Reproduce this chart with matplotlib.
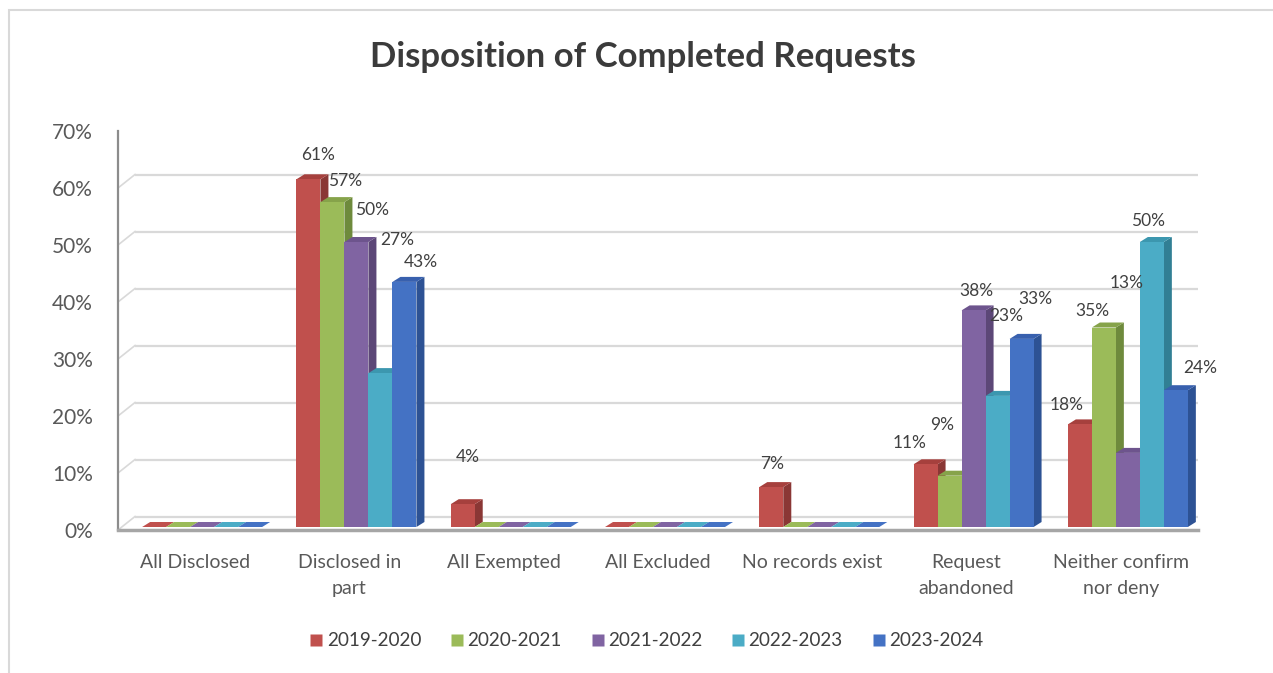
import numpy as np
import matplotlib.pyplot as plt
from matplotlib.patches import Polygon, Rectangle
from matplotlib.lines import Line2D

plt.rcParams['font.family'] = ['Lato', 'DejaVu Sans']

categories = ['All Disclosed', 'Disclosed in\npart', 'All Exempted', 'All Excluded',
              'No records exist', 'Request\nabandoned', 'Neither confirm\nnor deny']
years = ['2019-2020', '2020-2021', '2021-2022', '2022-2023', '2023-2024']

# percent per category, one list per year
v_2019 = [0, 61, 4, 0, 7, 11, 18]
v_2020 = [0, 57, 0, 0, 0, 9, 35]
v_2021 = [0, 50, 0, 0, 0, 38, 13]
v_2022 = [0, 27, 0, 0, 0, 23, 50]
v_2023 = [0, 43, 0, 0, 0, 33, 24]
series = [v_2019, v_2020, v_2021, v_2022, v_2023]

yticks = [0, 10, 20, 30, 40, 50, 60, 70]

# where excel put the data labels (height in %, sideways nudge in px)
label_y = [
    [0, 0, 0, 0, 0],
    [65.8, 61.2, 56.1, 50.9, 47.0],
    [12.8, 0, 0, 0, 0],
    [0, 0, 0, 0, 0],
    [11.6, 0, 0, 0, 0],
    [15.3, 18.4, 41.9, 37.5, 40.5],
    [21.9, 38.4, 43.3, 54.2, 28.4],
]
label_dx = [
    [0, 0, 0, 0, 0],
    [10, 13, 16, 17, 16],
    [5, 0, 0, 0, 0],
    [0, 0, 0, 0, 0],
    [1, 0, 0, 0, 0],
    [-16, -7, 3, 9, 14],
    [-13, -11, -1, -4, 24],
]

front = ['#C0504D', '#9BBB59', '#8064A2', '#4BACC6', '#4472C4']
side = ['#8A3735', '#6E8A3C', '#5C4777', '#317F94', '#2D5294']
top = ['#A6403D', '#86A34A', '#6D548D', '#3C97AF', '#3860AE']

W, H = 1273, 673
fig = plt.figure(figsize=(W / 100, H / 100), dpi=100)
# chart border, only top and left edges fall inside the picture
fig.patches.append(Rectangle((9 / W, -20 / H), 1300 / W, 683 / H, transform=fig.transFigure,
                             fill=False, edgecolor='#D9D9D9', linewidth=1.5))

# front plane of the 3d box: x 118..1198 px, y 530..131 px
ax = fig.add_axes([118 / W, (H - 530) / H, 1080 / W, 399 / H])
ax.set_xlim(-0.5, 6.5)
ax.set_ylim(0, 70)
for s in ax.spines.values():
    s.set_visible(False)
ax.patch.set_alpha(0)

PX_X = 1080 / 7.0   # px per category
PX_Y = 399 / 70.0   # px per percent

def px(dx=0, dy=0):
    return dx / PX_X, dy / PX_Y

# back wall gridlines + left wall diagonals
bx0, by = px(17, 13.5)
bx1, _ = px(22, 0)
for t in yticks:
    ax.plot([-0.5 + bx0, 6.5 + bx1], [t + by, t + by], color='#D9D9D9', lw=1.6, zorder=1,
            solid_capstyle='butt')
    ax.plot([-0.5, -0.5 + bx0], [t, t + by], color='#D9D9D9', lw=1.2, zorder=1)

# front axis line and floor edge
ax.plot([-0.5, -0.5], [0, 70], color='#8C8C8C', lw=1.6, zorder=2, clip_on=False)
ax.plot([-0.5, 6.5], [0, 0], color='#A6A6A6', lw=2.5, zorder=2, clip_on=False)

bw = 24 / PX_X
shift = 7 / PX_X
lift = 3 / PX_Y
ddx, ddy = px(8, 5)

z = 3
for i in range(len(categories)):
    for j, vals in enumerate(series):
        v = vals[i]
        xc = i + shift + (j - 2) * bw
        x0, x1 = xc - bw / 2, xc + bw / 2
        y0 = lift
        if v > 0:
            ax.bar(xc, v, width=bw, bottom=y0, color=front[j], linewidth=0, zorder=z)
            ax.add_patch(Polygon([(x1, y0), (x1, y0 + v), (x1 + ddx, y0 + v + ddy), (x1 + ddx, y0 + ddy)],
                                 closed=True, facecolor=side[j], edgecolor='none', zorder=z - 0.5))
        ax.add_patch(Polygon([(x0, y0 + v), (x1, y0 + v), (x1 + ddx, y0 + v + ddy), (x0 + ddx, y0 + v + ddy)],
                             closed=True, facecolor=top[j] if v > 0 else front[j], edgecolor='none',
                             zorder=z - 0.5))
        if v > 0:
            ax.text(xc + label_dx[i][j] / PX_X, label_y[i][j], f'{v}%', ha='center', va='center',
                    fontsize=12.5, color='#404040', zorder=200)
        z += 1

ax.set_xticks(range(len(categories)))
ax.set_xticklabels(categories, fontsize=14, color='#595959', linespacing=1.65)
ax.set_yticks(yticks)
ax.set_yticklabels([f'{t}%' for t in yticks], fontsize=15, color='#595959')
ax.tick_params(axis='x', length=0, pad=17)
ax.tick_params(axis='y', length=0, pad=18)

fig.text(643 / W, 1 - 57 / H, 'Disposition of Completed Requests', ha='center', va='center',
         fontsize=25, fontweight='bold', color='#3B3B3B')

handles = [Line2D([], [], marker='s', linestyle='none', markersize=9, markerfacecolor=c,
                  markeredgecolor='none') for c in front]
fig.legend(handles, years, loc='center', bbox_to_anchor=(646 / W, 1 - 641 / H), ncol=5,
           frameon=False, fontsize=13.6, handletextpad=0.15, columnspacing=1.5,
           labelcolor='#404040', handlelength=0.8)

fig.savefig('out.png', dpi=100, facecolor='white')
